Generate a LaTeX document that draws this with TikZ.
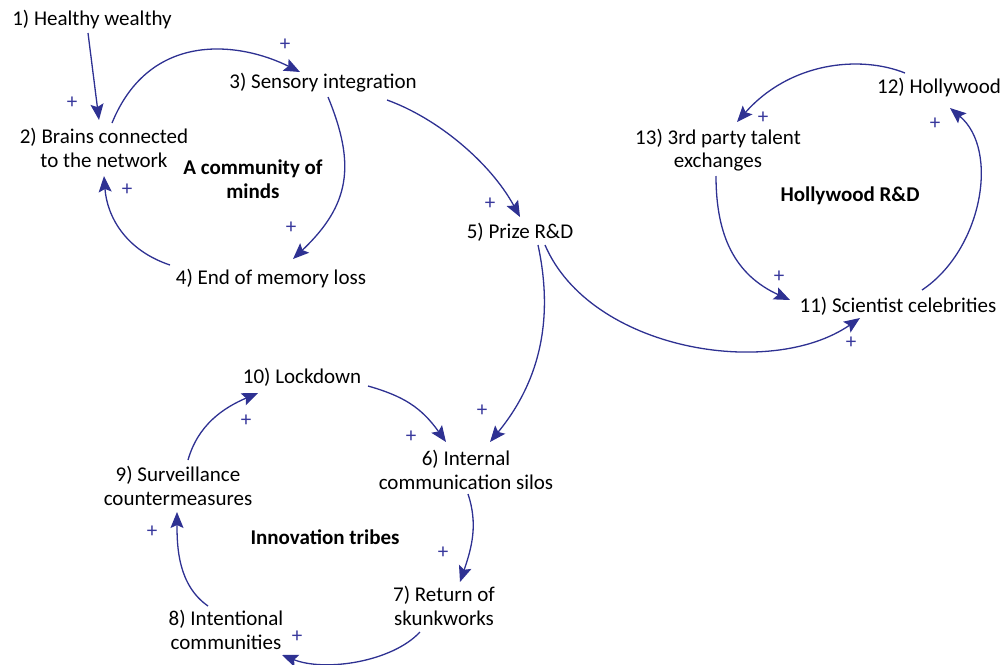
\documentclass[tikz,border=0pt]{standalone}
\usepackage{fontspec}
\setmainfont{Carlito}
\usetikzlibrary{arrows.meta}
\definecolor{linkblue}{RGB}{46,49,146}
\definecolor{signblue}{RGB}{56,56,156}
\begin{document}
\begin{tikzpicture}[x=1pt,y=-1pt,
  var/.style={align=center,inner sep=0pt,font=\fontsize{21}{23.5}\selectfont},
  looplabel/.style={var,font=\fontsize{21}{23.5}\selectfont\bfseries},
  sign/.style={text=signblue,inner sep=0pt,text height=10pt,text depth=0pt,font=\fontsize{21}{21}\selectfont},
  link/.style={draw=linkblue,line width=1.3pt,-{Stealth[length=16pt,width=13pt,inset=3pt]}}]
\useasboundingbox (0,0) rectangle (1006,664);

% variables
\node[var] (n1)  at (92,20)   {1) Healthy wealthy};
\node[var] (n2)  at (104,148) {2) Brains connected\\to the network};
\node[var] (n3)  at (323,83)  {3) Sensory integration};
\node[var] (n4)  at (271,279) {4) End of memory loss};
\node[var] (n5)  at (520,232) {5) Prize R\&D};
\node[var] (n6)  at (466,470) {6) Internal\\communication silos};
\node[var] (n7)  at (444,606) {7) Return of\\skunkworks};
\node[var] (n8)  at (226,630) {8) Intentional\\communities};
\node[var] (n9)  at (178,486) {9) Surveillance\\countermeasures};
\node[var] (n10) at (302,377) {10) Lockdown};
\node[var] (n11) at (898,306) {11) Scientist celebrities};
\node[var] (n12) at (939,88)  {12) Hollywood};
\node[var] (n13) at (718,150) {13) 3rd party talent\\exchanges};

% loop names
\node[looplabel] (loopA) at (253,179) {A community of\\minds};
\node[looplabel] (loopB) at (850,196) {Hollywood R\&D};
\node[looplabel] (loopC) at (325,537) {Innovation tribes};

% causal links
\draw[link] ([shift={(-4,13)}]n1.center) -- ([shift={(-5,-28)}]n2.center);
\draw[link] ([shift={(8,-25)}]n2.center) .. controls +(38,-93) and +(-60,-30) .. ([shift={(-23,-11)}]n3.center);
\draw[link] ([shift={(5,14)}]n3.center) .. controls +(28,68) and +(57,-54) .. ([shift={(22,-20)}]n4.center);
\draw[link] ([shift={(-101,-14)}]n4.center) .. controls +(-45,-15) and +(3,40) .. ([shift={(0,28)}]n2.center);
\draw[link] ([shift={(64,17)}]n3.center) .. controls +(50,18) and +(-30,-55) .. ([shift={(0,-15)}]n5.center);
\draw[link] ([shift={(18,13)}]n5.center) .. controls +(14,65) and +(55,-67) .. ([shift={(24,-28)}]n6.center);
\draw[link] ([shift={(25,13)}]n5.center) .. controls +(45,105) and +(-90,62) .. ([shift={(-38,12)}]n11.center);
\draw[link] ([shift={(24,-16)}]n11.center) .. controls +(60,-40) and +(50,42) .. ([shift={(11,20)}]n12.center);
\draw[link] ([shift={(-34,-15)}]n12.center) .. controls +(-45,-18) and +(53,-60) .. ([shift={(19,-28)}]n13.center);
\draw[link] ([shift={(-2,26)}]n13.center) .. controls +(0,60) and +(-55,-25) .. ([shift={(-108,-6)}]n11.center);
\draw[link] ([shift={(66,9)}]n10.center) .. controls +(35,10) and +(-25,-35) .. ([shift={(-20,-28)}]n6.center);
\draw[link] ([shift={(2,24)}]n6.center) .. controls +(10,30) and +(12,-35) .. ([shift={(16,-24)}]n7.center);
\draw[link] ([shift={(-24,26)}]n7.center) .. controls +(-28,30) and +(43,17) .. ([shift={(56,25)}]n8.center);
\draw[link] ([shift={(-18,-24)}]n8.center) .. controls +(-30,-21) and +(0,35) .. ([shift={(-1,26)}]n9.center);
\draw[link] ([shift={(10,-26)}]n9.center) .. controls +(10,-35) and +(-35,15) .. ([shift={(-44,16)}]n10.center);

% polarity signs
\node[sign] (p1)  at (285,45)  {+};
\node[sign] (p2)  at (72,103)  {+};
\node[sign] (p3)  at (127,190) {+};
\node[sign] (p4)  at (291,228) {+};
\node[sign] (p5)  at (490,204) {+};
\node[sign] (p6)  at (482,411) {+};
\node[sign] (p7)  at (411,437) {+};
\node[sign] (p8)  at (246,421) {+};
\node[sign] (p9)  at (152,532) {+};
\node[sign] (p10) at (443,553) {+};
\node[sign] (p11) at (297,637) {+};
\node[sign] (p12) at (763,118) {+};
\node[sign] (p13) at (935,124) {+};
\node[sign] (p14) at (779,277) {+};
\node[sign] (p15) at (851,343) {+};
\end{tikzpicture}
\end{document}
